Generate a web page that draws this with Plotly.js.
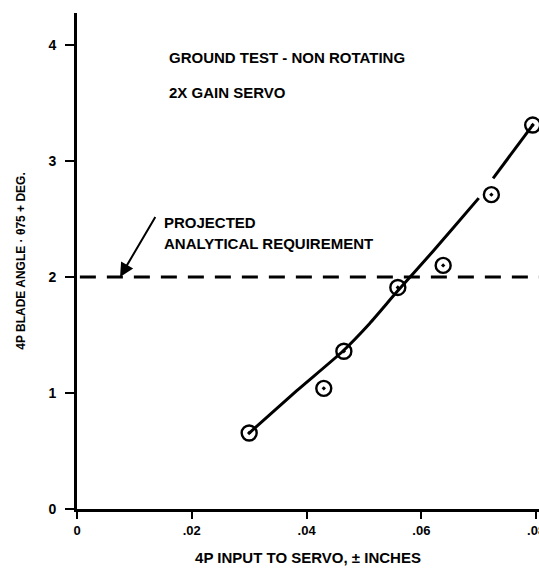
<!DOCTYPE html>
<html>
<head>
<meta charset="utf-8">
<script src="https://cdn.plot.ly/plotly-3.0.1.min.js"></script>
<style>html,body{margin:0;padding:0;background:#fff;}#chart{width:539px;height:571px;}</style>
</head>
<body>
<div id="chart"></div>
<script>
// Measured test points (input ± inches, blade angle deg)
const pointX = [0.0300, 0.0430, 0.0465, 0.0559, 0.0638, 0.0722, 0.0794];
const pointY = [0.655, 1.04, 1.36, 1.91, 2.10, 2.71, 3.31];

// Faired curve (drawn in two pieces, broken near the .072 point)
const curveLowX = [0.0300, 0.0383, 0.0463, 0.0510, 0.0557, 0.0620, 0.0655, 0.0700];
const curveLowY = [0.655, 1.02, 1.36, 1.60, 1.87, 2.22, 2.42, 2.68];
const curveHighX = [0.0725, 0.0794];
const curveHighY = [2.85, 3.31];

// Projected analytical requirement
const requirementX = [0.0005, 0.0810];
const requirementY = [2.0, 2.0];

// Axis ticks
const xTickVals = [0, 0.02, 0.04, 0.06, 0.08];
const xTickText = ['0', '.02', '.04', '.06', '.08'];
const yTickVals = [0, 1, 2, 3, 4];
const yTickText = ['0', '1', '2', '3', '4'];

const font = {family: 'Liberation Sans, Arial, sans-serif', color: '#000', size: 12, weight: 'bold'};

const traces = [
  {x: requirementX, y: requirementY, mode: 'lines', line: {color: '#000', width: 3, dash: '16px,11px'}, hoverinfo: 'skip'},
  {x: curveLowX, y: curveLowY, mode: 'lines', line: {color: '#000', width: 3, shape: 'spline', smoothing: 0.6}},
  {x: curveHighX, y: curveHighY, mode: 'lines', line: {color: '#000', width: 3}},
  {x: pointX, y: pointY, mode: 'markers', marker: {symbol: 'circle-open-dot', size: 15, color: '#000', line: {width: 2.4, color: '#000'}}}
];

const layout = {
  width: 539, height: 571,
  margin: {l: 77, r: 0, t: 13, b: 62},
  paper_bgcolor: '#fff', plot_bgcolor: '#fff',
  showlegend: false,
  font: font,
  xaxis: {
    range: [0, 0.0805], showgrid: false, zeroline: false,
    showline: true, linecolor: '#000', linewidth: 3,
    ticks: 'outside', ticklen: 7, tickwidth: 2, tickcolor: '#000',
    ticklabeloverflow: 'allow',
    tickvals: xTickVals, ticktext: xTickText, tickfont: {size: 13},
    title: {text: '4P INPUT TO SERVO, ± INCHES', font: {size: 15}, standoff: 16}
  },
  yaxis: {
    range: [0, 4.276], showgrid: false, zeroline: false,
    showline: true, linecolor: '#000', linewidth: 3,
    ticks: 'outside', ticklen: 9, tickwidth: 2, tickcolor: '#000',
    ticklabelstandoff: 6,
    tickvals: yTickVals, ticktext: yTickText, tickfont: {size: 14},
    title: {text: '4P BLADE ANGLE · θ75 + DEG.', font: {size: 12}, standoff: 21}
  },
  annotations: [
    {x: 0.0157, y: 3.89, xref: 'x', yref: 'y', text: 'GROUND TEST - NON ROTATING', showarrow: false, xanchor: 'left', yanchor: 'middle', font: {size: 15}},
    {x: 0.0157, y: 3.59, xref: 'x', yref: 'y', text: '2X GAIN SERVO', showarrow: false, xanchor: 'left', yanchor: 'middle', font: {size: 15}},
    {x: 0.0148, y: 2.47, xref: 'x', yref: 'y', text: 'PROJECTED', showarrow: false, xanchor: 'left', yanchor: 'middle', font: {size: 15}},
    {x: 0.0148, y: 2.29, xref: 'x', yref: 'y', text: 'ANALYTICAL REQUIREMENT', showarrow: false, xanchor: 'left', yanchor: 'middle', font: {size: 15}},
    {x: 0.0075, y: 2.0, xref: 'x', yref: 'y', text: '', showarrow: true, axref: 'x', ayref: 'y', ax: 0.0138, ay: 2.53, arrowhead: 2, arrowsize: 1.4, arrowwidth: 2, arrowcolor: '#000'}
  ]
};

Plotly.newPlot('chart', traces, layout, {displayModeBar: false, staticPlot: true});
</script>
</body>
</html>
